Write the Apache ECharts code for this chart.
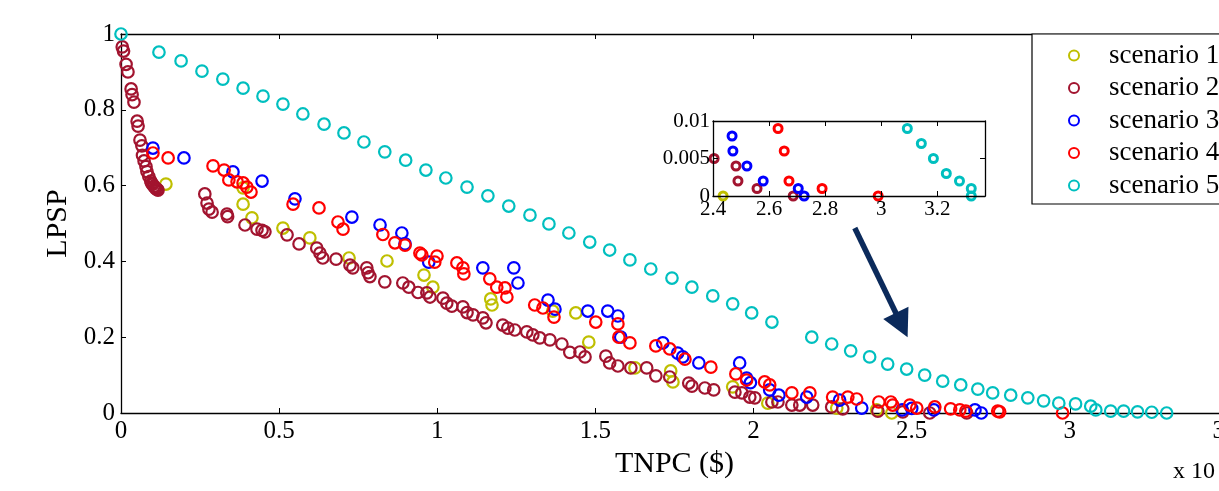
<!DOCTYPE html>
<html><head><meta charset="utf-8">
<script src="https://cdn.jsdelivr.net/npm/echarts@6/dist/echarts.min.js"></script>
<style>html,body{margin:0;padding:0;background:#fff;overflow:hidden}#c{width:1219px;height:491px}</style>
</head><body><div id="c"></div>
<script>
// ---------- data ----------
const seriesNames = ['scenario 1', 'scenario 2', 'scenario 3', 'scenario 4', 'scenario 5'];
const seriesColors = ['#BFBF00', '#A2142F', '#0000FF', '#FF0000', '#00BFBF'];
const xTickLabels = ['0', '0.5', '1', '1.5', '2', '2.5', '3', '3.5'];
const yTickLabels = ['0', '0.2', '0.4', '0.6', '0.8', '1'];

const scenario1 = [[0.142,0.604],[0.386,0.594],[0.386,0.551],[0.414,0.515],[0.512,0.488],[0.597,0.462],[0.721,0.409],[0.841,0.401],[0.958,0.364],[0.986,0.332],[1.169,0.301],[1.173,0.285],[1.365,0.269],[1.438,0.264],[1.479,0.187],[1.625,0.119],[1.738,0.111],[1.745,0.082],[1.934,0.069],[2.045,0.026],[2.263,0.013],[2.389,0.008],[2.437,0.0]];

const scenario2 = [[0.004,0.966],[0.008,0.955],[0.016,0.92],[0.022,0.9],[0.032,0.855],[0.035,0.84],[0.041,0.82],[0.051,0.77],[0.054,0.757],[0.06,0.72],[0.066,0.705],[0.068,0.68],[0.073,0.665],[0.079,0.65],[0.082,0.637],[0.088,0.624],[0.094,0.612],[0.097,0.606],[0.1,0.603],[0.104,0.598],[0.108,0.595],[0.11,0.592],[0.114,0.59],[0.117,0.588],[0.265,0.578],[0.272,0.554],[0.278,0.538],[0.288,0.53],[0.335,0.525],[0.337,0.518],[0.392,0.496],[0.43,0.485],[0.446,0.482],[0.455,0.478],[0.525,0.47],[0.563,0.446],[0.619,0.435],[0.629,0.422],[0.638,0.409],[0.68,0.406],[0.724,0.39],[0.733,0.383],[0.777,0.383],[0.781,0.37],[0.787,0.36],[0.834,0.346],[0.891,0.343],[0.91,0.332],[0.939,0.318],[0.967,0.317],[0.977,0.306],[1.018,0.303],[1.03,0.29],[1.046,0.282],[1.081,0.28],[1.094,0.265],[1.113,0.259],[1.144,0.251],[1.154,0.238],[1.207,0.232],[1.223,0.224],[1.245,0.219],[1.283,0.214],[1.302,0.206],[1.324,0.198],[1.356,0.193],[1.394,0.182],[1.419,0.16],[1.451,0.161],[1.467,0.148],[1.533,0.15],[1.545,0.132],[1.571,0.124],[1.612,0.119],[1.662,0.119],[1.691,0.098],[1.735,0.095],[1.795,0.079],[1.805,0.071],[1.846,0.066],[1.874,0.061],[1.941,0.055],[1.963,0.053],[1.988,0.042],[2.004,0.04],[2.058,0.029],[2.077,0.029],[2.121,0.021],[2.146,0.021],[2.187,0.021],[2.247,0.016],[2.282,0.011],[2.393,0.005],[2.472,0.003],[2.557,0.0],[2.674,0.0]];

const scenario3 = [[0.101,0.699],[0.199,0.673],[0.354,0.636],[0.446,0.612],[0.55,0.565],[0.73,0.517],[0.819,0.496],[0.888,0.475],[0.898,0.446],[0.973,0.398],[1.144,0.383],[1.242,0.383],[1.255,0.343],[1.35,0.298],[1.372,0.274],[1.476,0.269],[1.539,0.269],[1.571,0.256],[1.58,0.2],[1.713,0.185],[1.76,0.158],[1.776,0.148],[1.827,0.132],[1.956,0.132],[1.978,0.092],[1.99,0.08],[2.051,0.061],[2.08,0.047],[2.168,0.042],[2.272,0.034],[2.342,0.013],[2.47,0.008],[2.5,0.012],[2.57,0.008],[2.7,0.008],[2.72,0.0]];

const scenario4 = [[0.101,0.686],[0.149,0.673],[0.291,0.652],[0.326,0.641],[0.341,0.615],[0.367,0.61],[0.386,0.607],[0.398,0.596],[0.411,0.583],[0.544,0.551],[0.626,0.541],[0.686,0.504],[0.702,0.485],[0.828,0.471],[0.866,0.449],[0.898,0.443],[0.945,0.422],[0.951,0.417],[0.999,0.414],[0.992,0.398],[1.062,0.396],[1.081,0.383],[1.084,0.367],[1.166,0.354],[1.188,0.332],[1.214,0.33],[1.22,0.306],[1.308,0.285],[1.334,0.277],[1.369,0.253],[1.501,0.24],[1.571,0.235],[1.574,0.2],[1.609,0.185],[1.691,0.177],[1.735,0.169],[1.783,0.142],[1.865,0.121],[1.944,0.103],[1.978,0.087],[2.035,0.082],[2.051,0.074],[2.121,0.053],[2.178,0.053],[2.25,0.042],[2.298,0.042],[2.326,0.037],[2.396,0.029],[2.434,0.029],[2.44,0.021],[2.494,0.021],[2.516,0.013],[2.573,0.016],[2.623,0.011],[2.652,0.008],[2.671,0.005],[2.772,0.005],[2.778,0.003],[2.977,0.0]];

const scenario5 = [[0,1.0],[0.12,0.952],[0.19,0.929],[0.256,0.902],[0.322,0.881],[0.386,0.857],[0.449,0.836],[0.512,0.815],[0.575,0.789],[0.642,0.762],[0.705,0.739],[0.768,0.715],[0.834,0.689],[0.9,0.667],[0.964,0.641],[1.027,0.62],[1.094,0.596],[1.16,0.573],[1.226,0.546],[1.293,0.522],[1.353,0.499],[1.416,0.475],[1.482,0.451],[1.545,0.43],[1.609,0.404],[1.675,0.38],[1.742,0.356],[1.805,0.332],[1.871,0.309],[1.934,0.288],[1.994,0.264],[2.058,0.24],[2.184,0.2],[2.247,0.182],[2.307,0.164],[2.367,0.148],[2.424,0.129],[2.484,0.116],[2.541,0.1],[2.598,0.084],[2.655,0.074],[2.709,0.063],[2.756,0.053],[2.813,0.047],[2.867,0.04],[2.917,0.032],[2.965,0.026],[3.018,0.024],[3.066,0.018],[3.082,0.008],[3.129,0.005],[3.17,0.005],[3.214,0.003],[3.259,0.002],[3.306,0.0]];

// zoomed inset (x from 2.4, y up to 0.01)
const inset1 = [[2.436,0]];
const inset2 = [[2.404,0.005],[2.482,0.004],[2.489,0.002],[2.557,0.001],[2.686,0]];
const inset3 = [[2.468,0.008],[2.471,0.006],[2.521,0.004],[2.579,0.002],[2.704,0.001],[2.725,0]];
const inset4 = [[2.632,0.009],[2.654,0.006],[2.671,0.002],[2.789,0.001],[2.989,0]];
const inset5 = [[3.093,0.009],[3.143,0.007],[3.186,0.005],[3.232,0.003],[3.279,0.002],[3.321,0.001],[3.321,0]];
const insetXTicks = ['2.4', '2.6', '2.8', '3', '3.2'];
const insetYTicks = ['0', '0.005', '0.01'];

// ---------- chart ----------
const FONT = 'Liberation Serif';
const chart = echarts.init(document.getElementById('c'), null, { renderer: 'canvas' });
const mainData = [scenario1, scenario2, scenario3, scenario4, scenario5];
const insetData = [inset1, inset2, inset3, inset4, inset5];

function axisBase(extra) {
  return Object.assign({
    type: 'value',
    axisLine: { show: true, onZero: false, lineStyle: { color: '#000', width: 1.3 } },
    axisTick: { show: true, inside: true, length: 5, lineStyle: { color: '#000', width: 1 } },
    splitLine: { show: false },
    axisLabel: { show: false }
  }, extra);
}

const series = [];
mainData.forEach((d, i) => {
  series.push({
    name: seriesNames[i], type: 'scatter', xAxisIndex: 0, yAxisIndex: 0,
    data: d, symbol: 'circle', symbolSize: 11.5, clip: false,
    itemStyle: { color: 'rgba(0,0,0,0)', borderColor: seriesColors[i], borderWidth: 2.2, opacity: 1 },
    emphasis: { disabled: true }, z: 2
  });
});
insetData.forEach((d, i) => {
  series.push({
    name: seriesNames[i] + ' inset', type: 'scatter', xAxisIndex: 2, yAxisIndex: 2,
    data: d, symbol: 'circle', symbolSize: 8, clip: false,
    itemStyle: { color: 'rgba(0,0,0,0)', borderColor: seriesColors[i], borderWidth: 3, opacity: 1 },
    emphasis: { disabled: true }, z: 5
  });
});

const option = {
  backgroundColor: '#fff',
  animation: false,
  grid: [
    { left: 121, top: 34, width: 1107, height: 379, show: false, outerBoundsMode: 'none', containLabel: false },
    { left: 713, top: 121, width: 272, height: 75, show: true, backgroundColor: '#fff', borderWidth: 0, z: 4, outerBoundsMode: 'none', containLabel: false }
  ],
  xAxis: [
    axisBase({ gridIndex: 0, position: 'bottom', min: 0, max: 3.5, interval: 0.5,
      axisLabel: { show: true, color: '#000', fontFamily: FONT, fontSize: 25, margin: 6,
        formatter: (v) => xTickLabels[Math.round(v / 0.5)] },
      name: 'TNPC ($)', nameLocation: 'middle', nameGap: 36,
      nameTextStyle: { color: '#000', fontFamily: FONT, fontSize: 30 } }),
    axisBase({ gridIndex: 0, position: 'top', min: 0, max: 3.5, interval: 0.5 }),
    axisBase({ gridIndex: 1, position: 'bottom', min: 2.4, max: 3.37, interval: 0.2, z: 6,
      axisLabel: { show: true, color: '#000', fontFamily: FONT, fontSize: 21, margin: 3,
        showMaxLabel: false,
        formatter: (v) => { const k = Math.round((v - 2.4) / 0.2); return Math.abs(v - 2.4 - k * 0.2) < 1e-6 ? (insetXTicks[k] || '') : ''; } } }),
    axisBase({ gridIndex: 1, position: 'top', min: 2.4, max: 3.37, interval: 0.2, z: 6 })
  ],
  yAxis: [
    axisBase({ gridIndex: 0, position: 'left', min: 0, max: 1, interval: 0.2,
      axisLabel: { show: true, color: '#000', fontFamily: FONT, fontSize: 25, margin: 6,
        formatter: (v) => yTickLabels[Math.round(v / 0.2)] },
      name: 'LPSP', nameLocation: 'middle', nameGap: 46, nameRotate: 90,
      nameTextStyle: { color: '#000', fontFamily: FONT, fontSize: 30 } }),
    axisBase({ gridIndex: 0, position: 'right', min: 0, max: 1, interval: 0.2 }),
    axisBase({ gridIndex: 1, position: 'left', min: 0, max: 0.01, interval: 0.005, z: 6,
      axisLabel: { show: true, color: '#000', fontFamily: FONT, fontSize: 21, margin: 3,
        formatter: (v) => insetYTicks[Math.round(v / 0.005)] } }),
    axisBase({ gridIndex: 1, position: 'right', min: 0, max: 0.01, interval: 0.005, z: 6 })
  ],
  legend: {
    data: seriesNames,
    orient: 'vertical', left: 1032, top: 34,
    padding: [8, 60, 5, 36], itemGap: 5.5,
    itemWidth: 10, itemHeight: 10,
    backgroundColor: '#fff', borderColor: '#000', borderWidth: 1.2, borderRadius: 0,
    textStyle: { color: '#000', fontFamily: FONT, fontSize: 27, padding: [0, 0, 0, 25] },
    itemStyle: { color: 'rgba(0,0,0,0)', borderWidth: 2 },
    selectedMode: false, z: 10
  },
  series: series
};
chart.setOption(option);

// annotation: arrow pointing at the zoomed region, and the axis multiplier
const arrowStart = chart.convertToPixel({ gridIndex: 0 }, [2.32, 0.488]);
const arrowTip = chart.convertToPixel({ gridIndex: 0 }, [2.487, 0.2]);
const dx = arrowTip[0] - arrowStart[0], dy = arrowTip[1] - arrowStart[1];
const L = Math.sqrt(dx * dx + dy * dy), ux = dx / L, uy = dy / L;
const headLen = 27, headHalf = 14;
const bx = arrowTip[0] - ux * headLen, by = arrowTip[1] - uy * headLen;
chart.setOption({
  graphic: [
    { type: 'line', z: 20, shape: { x1: arrowStart[0], y1: arrowStart[1], x2: bx + ux * 2, y2: by + uy * 2 },
      style: { stroke: '#0B2A5B', lineWidth: 5.5 } },
    { type: 'polygon', z: 20, shape: { points: [arrowTip, [bx - uy * headHalf, by + ux * headHalf], [bx + uy * headHalf, by - ux * headHalf]] },
      style: { fill: '#0B2A5B' } },
    { type: 'text', z: 20, left: 1173, top: 460,
      style: { text: 'x 10', fill: '#000', font: '24px "Liberation Serif"' } }
  ]
});
</script>
</body></html>
